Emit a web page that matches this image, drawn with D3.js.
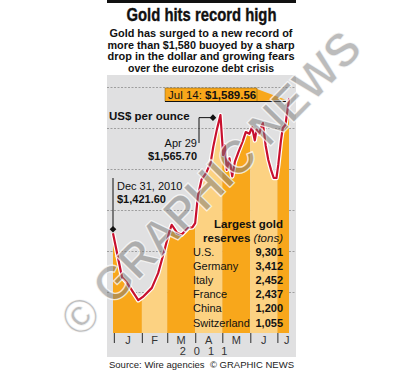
<!DOCTYPE html>
<html>
<head>
<meta charset="utf-8">
<script src="https://cdn.jsdelivr.net/npm/d3@7"></script>
<style>
  body { margin: 0; background: #fff; }
  svg { display: block; font-family: "Liberation Sans", Arial, Helvetica, sans-serif; }
</style>
</head>
<body>
<div id="chart"></div>
<script>
// gold price, US$ per ounce
const priceDates = [
  '2010-12-31', '2011-01-10', '2011-01-15', '2011-01-28', '2011-02-02', '2011-02-12',
  '2011-02-19', '2011-02-24', '2011-03-03', '2011-03-06', '2011-03-12', '2011-03-17',
  '2011-03-24', '2011-03-29', '2011-04-01', '2011-04-04', '2011-04-08', '2011-04-13',
  '2011-04-18', '2011-04-21', '2011-04-25', '2011-04-29', '2011-05-02', '2011-05-04',
  '2011-05-06', '2011-05-09', '2011-05-12', '2011-05-15', '2011-05-19', '2011-05-24',
  '2011-05-27', '2011-05-31', '2011-06-03', '2011-06-06', '2011-06-08', '2011-06-11',
  '2011-06-13', '2011-06-15', '2011-06-18', '2011-06-21', '2011-06-24', '2011-06-27',
  '2011-06-30', '2011-07-02', '2011-07-05', '2011-07-07', '2011-07-10', '2011-07-14'
];
const priceValues = [
  1421.6, 1368, 1362, 1340, 1344, 1355,
  1373, 1393, 1422, 1432, 1422, 1420,
  1428, 1429, 1434, 1467, 1487, 1495,
  1507, 1527, 1548, 1565.7, 1517, 1529,
  1499, 1513, 1491, 1509, 1521, 1535,
  1545, 1543, 1551, 1535, 1548, 1543,
  1551, 1556, 1529, 1511, 1499, 1489,
  1489, 1505, 1535, 1550, 1554, 1586
];

// x domain and tick labels
const axisDomain = ['2010-12-31', '2011-07-15'];
const monthLabels = ['J', 'F', 'M', 'A', 'M', 'J', 'J'];
const yearLabel = '2011';
const gridValues = [1350, 1400, 1450, 1500, 1550, 1600];

// annotated points
const noteDates = ['2010-12-31', '2011-04-29', '2011-07-14'];
const noteValues = [1421.60, 1565.70, 1589.56];

// largest gold reserves (tons)
const reserveCountries = ['U.S.', 'Germany', 'Italy', 'France', 'China', 'Switzerland'];
const reserveTons = [9301, 3412, 2452, 2437, 1200, 1055];

// texts
const titleText = 'Gold hits record high';
const subtitleLines = [
  'Gold has surged to a new record of',
  'more than $1,580 buoyed by a sharp',
  'drop in the dollar and growing fears',
  'over the eurozone debt crisis'
];

class Chart {

  constructor(opts) {
    this.element = opts.element;
    this.draw();
  }

  draw() {
    this.width = 404;
    this.height = 374;
    // grey panel and plot box
    this.panel = { left: 107, right: 296, top: 75, bottom: 357 };
    this.box = { left: 113, right: 290, top: 87, bottom: 333 };

    this.parse = d3.timeParse('%Y-%m-%d');
    this.data = priceDates.map((d, i) => ({ date: this.parse(d), value: priceValues[i] }));

    this.svg = d3.select(this.element).append('svg')
      .attr('width', this.width)
      .attr('height', this.height);

    this.addHeader();
    this.createScales();
    this.addGrid();
    this.addArea();
    this.addAxes();
    this.addNotes();
    this.addTable();
    this.addFooter();
    this.addWatermark();
  }

  addHeader() {
    const svg = this.svg;
    svg.append('rect')
      .attr('x', this.panel.left).attr('y', 0)
      .attr('width', this.panel.right - this.panel.left).attr('height', 3)
      .attr('fill', '#111');

    svg.append('text')
      .attr('x', 201.5).attr('y', 20.5)
      .attr('text-anchor', 'middle')
      .attr('textLength', 150)
      .attr('lengthAdjust', 'spacingAndGlyphs')
      .style('font-family', '"Liberation Sans Narrow", "Liberation Sans", Arial, sans-serif')
      .style('font-weight', 'bold')
      .style('font-size', '19px')
      .style('stroke', '#111')
      .style('stroke-width', 0.4)
      .style('fill', '#111')
      .text(titleText);

    const widths = [183, 187, 187, 146];
    svg.selectAll('.subtitle')
      .data(subtitleLines)
      .enter().append('text')
        .attr('class', 'subtitle')
        .attr('x', 201)
        .attr('y', (d, i) => 37 + i * 11.7)
        .attr('text-anchor', 'middle')
        .attr('textLength', (d, i) => widths[i])
        .attr('lengthAdjust', 'spacingAndGlyphs')
        .style('font-weight', 'bold')
        .style('font-size', '11.5px')
        .style('fill', '#111')
        .text(d => d);

    // grey background panel
    svg.append('rect')
      .attr('x', this.panel.left).attr('y', this.panel.top)
      .attr('width', this.panel.right - this.panel.left)
      .attr('height', this.panel.bottom - this.panel.top)
      .attr('fill', '#e0e0e1');
  }

  createScales() {
    this.xScale = d3.scaleTime()
      .domain(axisDomain.map(this.parse))
      .range([this.box.left, this.box.right]);

    this.yScale = d3.scaleLinear()
      .domain([1300, 1600])
      .range([this.box.bottom, this.box.top]);
  }

  addGrid() {
    const grid = d3.axisRight(this.yScale)
      .tickValues(gridValues)
      .tickSize(this.panel.right - this.panel.left - 1)
      .tickFormat('');

    const g = this.svg.append('g')
      .attr('class', 'grid')
      .attr('transform', `translate(${this.panel.left},0)`)
      .call(grid);
    g.select('.domain').remove();
    g.selectAll('line')
      .attr('stroke', '#8d8d8d')
      .attr('stroke-width', 0.8)
      .attr('stroke-dasharray', '2,1.5');
  }

  addArea() {
    const x = this.xScale, y = this.yScale;
    const area = d3.area()
      .x(d => x(d.date))
      .y0(this.box.bottom)
      .y1(d => y(d.value));
    const line = d3.line()
      .x(d => x(d.date))
      .y(d => y(d.value));

    this.svg.append('clipPath')
      .attr('id', 'area-clip')
      .append('path')
        .attr('d', area(this.data));

    // alternating month bands inside the area
    const start = x.domain()[0];
    const end = this.data[this.data.length - 1].date;
    const months = d3.timeMonth.range(this.parse('2011-01-01'), this.parse('2011-08-01'));
    const bands = this.svg.append('g').attr('clip-path', 'url(#area-clip)');
    bands.selectAll('rect')
      .data(months)
      .enter().append('rect')
        .attr('x', (d, i) => x(i === 0 ? start : d))
        .attr('y', this.box.top - 20)
        .attr('width', (d, i) => {
          const x0 = x(i === 0 ? start : d);
          const x1 = x(d3.min([d3.timeMonth.offset(d, 1), end]));
          return Math.max(0, x1 - x0);
        })
        .attr('height', this.box.bottom - this.box.top + 20)
        .attr('fill', (d, i) => i % 2 === 0 ? '#f8a71b' : '#fcd282');

    this.svg.append('path')
      .datum(this.data)
      .attr('fill', 'none')
      .attr('stroke', '#fff')
      .attr('stroke-width', 4.6)
      .attr('stroke-linejoin', 'round')
      .attr('d', line);

    this.svg.append('path')
      .datum(this.data)
      .attr('fill', 'none')
      .attr('stroke', '#c8102e')
      .attr('stroke-width', 2.2)
      .attr('stroke-linejoin', 'round')
      .attr('d', line);
  }

  addAxes() {
    const x = this.xScale;
    const months = d3.timeMonth.range(this.parse('2011-01-01'), this.parse('2011-08-01'));

    const xAxis = d3.axisBottom(x)
      .tickValues(months)
      .tickSize(10)
      .tickFormat('');

    const g = this.svg.append('g')
      .attr('class', 'x axis')
      .attr('transform', `translate(0,${this.box.bottom})`)
      .call(xAxis);
    g.select('.domain').remove();
    g.selectAll('line').attr('stroke', '#4a4a4a').attr('stroke-width', 1.2);

    this.svg.selectAll('.month-label')
      .data(months)
      .enter().append('text')
        .attr('class', 'month-label')
        .attr('x', d => (x(d) + Math.min(x(d3.timeMonth.offset(d, 1)), this.panel.right)) / 2)
        .attr('y', 343.5)
        .attr('text-anchor', 'middle')
        .style('font-size', '11px')
        .style('fill', '#333')
        .text((d, i) => monthLabels[i]);

    this.svg.append('text')
      .attr('x', 207.5)
      .attr('y', 355)
      .attr('text-anchor', 'middle')
      .style('font-size', '11px')
      .style('letter-spacing', '8px')
      .style('fill', '#333')
      .text(yearLabel);
  }

  addNotes() {
    const x = this.xScale, y = this.yScale;
    const svg = this.svg;
    const dates = noteDates.map(this.parse);
    const money = d3.format('$,.2f');
    const diamond = d3.symbol().type(d3.symbolSquare).size(22);

    svg.append('text')
      .attr('x', 109).attr('y', 119.5)
      .style('font-size', '11.5px')
      .style('font-weight', 'bold')
      .style('fill', '#111')
      .text('US$ per ounce');

    // Dec 31 marker
    const d0x = x(dates[0]), d0y = y(noteValues[0]) - 4;
    svg.append('line')
      .attr('x1', d0x).attr('x2', d0x)
      .attr('y1', 178).attr('y2', d0y)
      .attr('stroke', '#111').attr('stroke-width', 1);
    svg.append('path')
      .attr('d', diamond)
      .attr('transform', `translate(${d0x},${d0y}) rotate(45)`)
      .attr('fill', '#111');
    svg.append('text')
      .attr('x', 117).attr('y', 190)
      .style('font-size', '11px').style('fill', '#111')
      .text(d3.timeFormat('%b %-d, %Y')(dates[0]));
    svg.append('text')
      .attr('x', 117).attr('y', 203)
      .style('font-size', '11px').style('font-weight', 'bold').style('fill', '#111')
      .text(money(noteValues[0]));

    // Apr 29 marker
    const d1x = x(dates[1]) - 7.5, d1y = y(noteValues[1]) + 2.5;
    svg.append('path')
      .attr('d', `M${d1x},${d1y}H199V143`)
      .attr('fill', 'none')
      .attr('stroke', '#111').attr('stroke-width', 1);
    svg.append('path')
      .attr('d', diamond)
      .attr('transform', `translate(${d1x},${d1y}) rotate(45)`)
      .attr('fill', '#111');
    svg.append('text')
      .attr('x', 197).attr('y', 147)
      .attr('text-anchor', 'end')
      .style('font-size', '11px').style('fill', '#111')
      .text(d3.timeFormat('%b %-d')(dates[1]));
    svg.append('text')
      .attr('x', 197).attr('y', 159.5)
      .attr('text-anchor', 'end')
      .style('font-size', '11px').style('font-weight', 'bold').style('fill', '#111')
      .text(money(noteValues[1]));

    // Jul 14 callout
    const d2x = x(dates[2]);
    svg.append('polygon')
      .attr('points', `257,89 ${d2x - 4},99.5 257,101.5`)
      .attr('fill', '#f8a71b');
    svg.append('rect')
      .attr('x', 165).attr('y', 88)
      .attr('width', 92).attr('height', 13.5)
      .attr('fill', '#f8a71b')
      .attr('stroke', '#7a5a10').attr('stroke-width', 0.5);
    svg.append('line')
      .attr('x1', 165).attr('x2', d2x - 3)
      .attr('y1', 101.5).attr('y2', 101.5)
      .attr('stroke', '#111').attr('stroke-width', 1);
    const t = svg.append('text')
      .attr('x', 168).attr('y', 99)
      .style('font-size', '11.5px').style('fill', '#111');
    t.append('tspan').text(d3.timeFormat('%b %-d: ')(dates[2]));
    t.append('tspan').style('font-weight', 'bold').text(money(noteValues[2]));
  }

  addTable() {
    const svg = this.svg;
    const right = 283;
    svg.append('text')
      .attr('x', right).attr('y', 228)
      .attr('text-anchor', 'end')
      .style('font-size', '11.5px').style('font-weight', 'bold').style('fill', '#111')
      .text('Largest gold');
    const sub = svg.append('text')
      .attr('x', right).attr('y', 241.5)
      .attr('text-anchor', 'end')
      .style('font-size', '11.5px').style('fill', '#111');
    sub.append('tspan').style('font-weight', 'bold').text('reserves ');
    sub.append('tspan').style('font-style', 'italic').text('(tons)');

    const rows = svg.selectAll('.reserve')
      .data(reserveCountries)
      .enter().append('g')
        .attr('class', 'reserve')
        .attr('transform', (d, i) => `translate(0,${255.5 + i * 14.2})`);
    rows.append('text')
      .attr('x', 193)
      .style('font-size', '11px').style('fill', '#111')
      .text(d => d);
    rows.append('text')
      .attr('x', right)
      .attr('text-anchor', 'end')
      .style('font-size', '11px').style('font-weight', 'bold').style('fill', '#111')
      .text((d, i) => d3.format(',')(reserveTons[i]));
  }

  addFooter() {
    this.svg.append('text')
      .attr('x', 109).attr('y', 368)
      .style('font-size', '9.5px').style('fill', '#222')
      .text('Source: Wire agencies');
    this.svg.append('text')
      .attr('x', 294).attr('y', 368)
      .attr('text-anchor', 'end')
      .style('font-size', '9.5px').style('fill', '#222')
      .text('\u00A9 GRAPHIC NEWS');
  }

  addWatermark() {
    this.svg.append('text')
      .attr('transform', 'translate(210,183) rotate(-45.5)')
      .attr('text-anchor', 'middle')
      .attr('dy', '0.36em')
      .attr('textLength', 405)
      .attr('lengthAdjust', 'spacingAndGlyphs')
      .style('font-size', '48px')
      .style('font-weight', 'bold')
      .style('fill', '#7a7a7a')
      .style('fill-opacity', 0.5)
      .style('stroke', '#fff')
      .style('stroke-opacity', 0.75)
      .style('stroke-width', 1.3)
      .text('\u00A9 GRAPHIC NEWS');
  }
}

new Chart({ element: document.querySelector('#chart') });
</script>
</body>
</html>
